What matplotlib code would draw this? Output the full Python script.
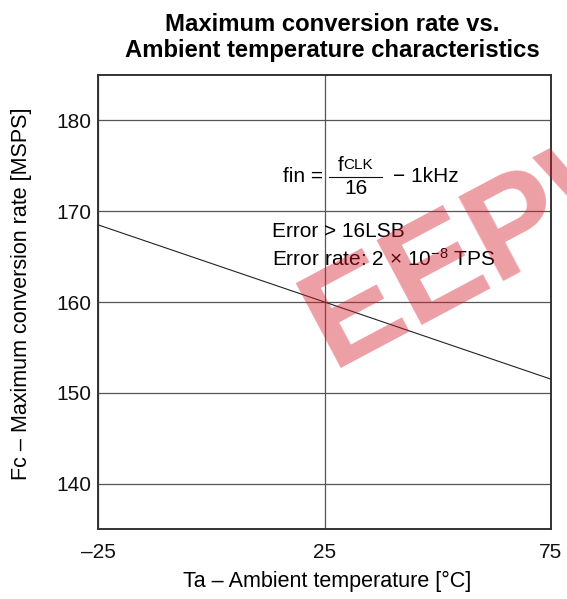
import numpy as np
import matplotlib
matplotlib.use('Agg')
import matplotlib.pyplot as plt

# Fc vs Ta
temp = [-25, 75]
fc = [168.5, 151.5]

x_ticks = [-25, 25, 75]
x_tick_labels = ['\u201325', '25', '75']
y_ticks = [140, 150, 160, 170, 180]

plt.rcParams['font.family'] = ['Liberation Sans', 'DejaVu Sans']
plt.rcParams['mathtext.fontset'] = 'custom'
plt.rcParams['mathtext.rm'] = 'Liberation Sans'
plt.rcParams['mathtext.it'] = 'Liberation Sans'

fig = plt.figure(figsize=(5.67, 5.99), dpi=100)
# axes box in pixels: left 98, right 551, top 75, bottom 529
ax = fig.add_axes([98/567, 1 - 529/599, (551-98)/567, (529-75)/599])

ax.plot(temp, fc, color='#222222', lw=0.8, zorder=3)

ax.set_xlim(-25, 75)
ax.set_ylim(135, 185)
ax.set_xticks(x_ticks)
ax.set_xticklabels(x_tick_labels)
ax.set_yticks(y_ticks)
ax.tick_params(length=0, labelsize=15, colors='#111111')
ax.tick_params(axis='x', pad=10)
ax.tick_params(axis='y', pad=5)
ax.grid(True, color='#555555', lw=0.9)
ax.set_axisbelow(True)
for s in ax.spines.values():
    s.set_linewidth(1.4)
    s.set_color('#333333')

ax.set_xlabel('Ta \u2013 Ambient temperature [\u00b0C]', fontsize=15.5)
ax.set_ylabel('Fc \u2013 Maximum conversion rate [MSPS]', fontsize=15.5)
ax.xaxis.set_label_coords(0.505, -0.092)
ax.yaxis.set_label_coords(-0.145, 0.519)

fig.text(332/567, 1 - 37.5/599, 'Maximum conversion rate vs.\nAmbient temperature characteristics',
         ha='center', va='center', fontsize=17.2, fontweight='bold', linespacing=1.12)

# formula annotation
fs = 15
ax.text(15.8, 173.86, 'fin =', fontsize=fs, ha='left', va='center')
ax.text(28.0, 175.05, 'f', fontsize=fs, ha='left', va='center')
ax.text(29.1, 175.05, 'CLK', fontsize=11, ha='left', va='center')
ax.plot([26.0, 37.7], [173.8, 173.8], color='#111111', lw=0.8)
ax.text(31.9, 172.55, '16', fontsize=fs, ha='center', va='center')
ax.text(40.1, 173.86, '\u2212 1kHz', fontsize=fs, ha='left', va='center')

ax.text(13.4, 167.8, 'Error > 16LSB', fontsize=fs, ha='left', va='center')
ax.text(13.4, 164.8, r'Error rate: 2 $\times$ 10$^{-8}$ TPS', fontsize=fs, ha='left', va='center')

# red watermark over the plot
fig.text(495/567, 1 - 240/599, 'EEPW', fontsize=100, fontweight='bold', color=(0.84, 0.1, 0.16),
         alpha=0.42, rotation=28, ha='center', va='center', zorder=10)

fig.savefig('out.png', dpi=100)
